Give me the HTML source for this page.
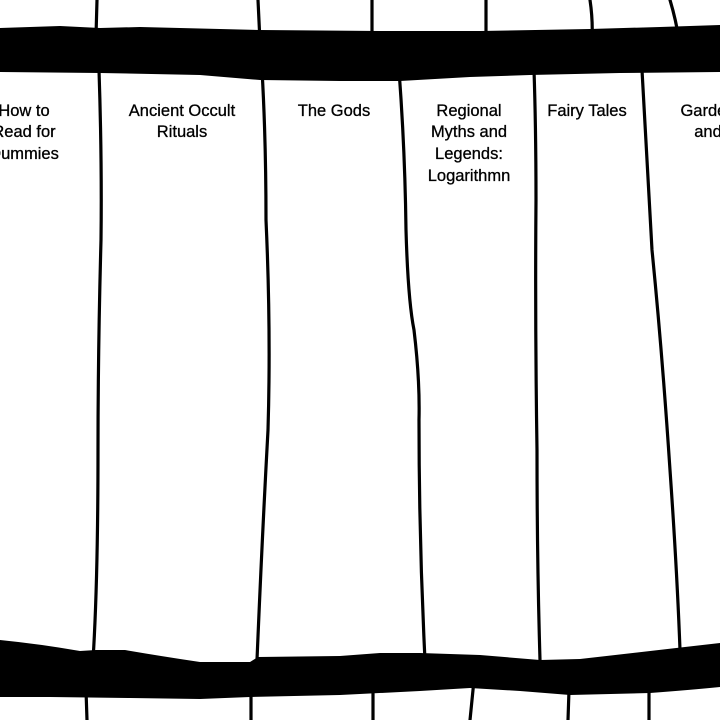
<!DOCTYPE html>
<html><head><meta charset="utf-8"><style>html,body{margin:0;padding:0;background:#fff;overflow:hidden}svg{display:block}</style></head>
<body>
<svg width="720" height="720" viewBox="0 0 720 720" xmlns="http://www.w3.org/2000/svg">
<g fill="none" stroke="#000" stroke-width="3.2" stroke-linecap="round">
<path d="M97 0 L96 36"/>
<path d="M258 0 L260 42"/>
<path d="M372 0 L372 42"/>
<path d="M486 0 L486 42"/>
<path d="M590 0 Q593 20 592 40"/>
<path d="M670 0 Q676 20 679 40"/>
<path d="M99 70 Q102 160 101 240 Q98 350 98 450 Q98 580 93 660"/>
<path d="M262 70 Q266 140 266 220 Q271 330 268 430 Q262 540 257 660"/>
<path d="M399 70 Q405 150 406 230 Q408 300 414 330 Q420 380 419 420 Q419 540 425 660"/>
<path d="M534 70 Q536 130 536 200 Q535 320 537 450 Q537 560 540 660"/>
<path d="M642 70 Q646 140 652 250 Q662 350 670 470 Q677 570 680 650"/>
<path d="M86 690 L87 720"/>
<path d="M251 690 L251 720"/>
<path d="M373 690 L373 720"/>
<path d="M474 680 Q472 700 470 720"/>
<path d="M569 690 L568 720"/>
<path d="M649 690 L649 720"/>
</g>
<path fill="#000" d="M0 28 L60 26 L100 28 L140 27 L220 29 L260 30 L380 31 L480 31 L590 29 L660 27 L720 25 L720 72 L620 73 L530 75 L470 77 L400 81 L340 81 L260 80 L200 75 L100 73 L0 72 Z"/>
<path fill="#000" d="M0 640 Q40 644 80 651 L96 650 L125 650 Q160 656 200 662 L250 662 L258 657 L340 656 L380 653 L420 653 L480 655 L540 660 L580 659 Q650 651 720 643 L720 687 Q690 690 650 693 L570 695 L520 691 L470 688 L420 691 L340 695 L250 697 L200 699 L130 698 L50 697 L0 697 Z"/>
<g font-family="Liberation Sans, sans-serif" font-size="16.5" text-anchor="middle" fill="#000" stroke="#000" stroke-width="0.3">
<text x="24" y="116">How to</text><text x="24" y="137">Read for</text><text x="24" y="159">Dummies</text>
<text x="182" y="116">Ancient Occult</text><text x="182" y="137">Rituals</text>
<text x="334" y="116">The Gods</text>
<text x="469" y="116">Regional</text><text x="469" y="137">Myths and</text><text x="469" y="159">Legends:</text><text x="469" y="181">Logarithmn</text>
<text x="587" y="116">Fairy Tales</text>
<text x="708" y="116">Garden</text><text x="708" y="137">and</text>
</g>
</svg>
</body></html>
